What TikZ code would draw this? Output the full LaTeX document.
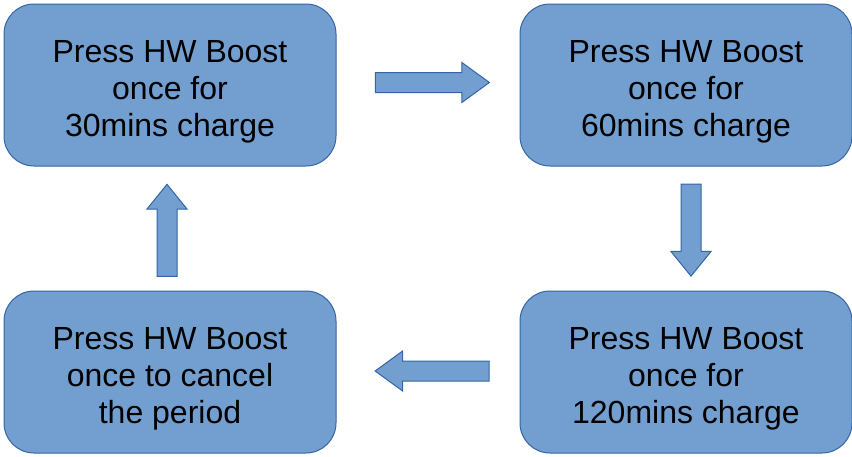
\documentclass[tikz,border=0pt]{standalone}
\usepackage{fontspec}
\setmainfont{Liberation Sans}
\usetikzlibrary{positioning,shapes.arrows,calc}
\definecolor{boxfill}{HTML}{729FCF}
\definecolor{boxline}{HTML}{3465A4}

\begin{document}
\begin{tikzpicture}[x=0.5pt,y=-0.5pt,
    stepbox/.style={draw=boxline, fill=boxfill, line width=0.5pt,
      rounded corners=15pt, minimum width=166pt, minimum height=81pt,
      label={[font=\fontsize{16}{18.6}\selectfont, align=center, yshift=-3.5pt]center:#1}},
    blockarrow/.style={single arrow, draw=boxline, fill=boxfill,
      line width=0.5pt, inner xsep=0pt, inner ysep=4.75pt,
      single arrow head extend=5pt, single arrow head indent=0pt},
    harrow/.style={blockarrow, minimum height=57pt, single arrow tip angle=72},
    varrow/.style={blockarrow, minimum height=46pt, single arrow tip angle=78}
  ]
  \useasboundingbox (0,0) rectangle (852,456);
  % the four steps
  \node[stepbox={Press HW Boost\\once for\\30mins charge}] (t30) at (170,85) {};
  \node[stepbox={Press HW Boost\\once for\\60mins charge}, right=91.5pt of t30] (t60) {};
  \node[stepbox={Press HW Boost\\once for\\120mins charge}, below=62pt of t60] (t120) {};
  \node[stepbox={Press HW Boost\\once to cancel\\the period}, left=91.5pt of t120] (cancel) {};
  % block arrows between them
  \node[harrow] (a1) at ($(t30.east)!0.5!(t60.west)+(-2.5,-2.5)$) {};
  \node[varrow, rotate=-90] (a2) at ($(t60.south)!0.5!(t120.north)+(5,-4.5)$) {};
  \node[harrow, rotate=180] (a3) at ($(t120.west)!0.5!(cancel.east)+(11,-1)$) {};
  \node[varrow, rotate=90] (a4) at ($(cancel.north)!0.5!(t30.south)+(-3,8)$) {};
\end{tikzpicture}
\end{document}
